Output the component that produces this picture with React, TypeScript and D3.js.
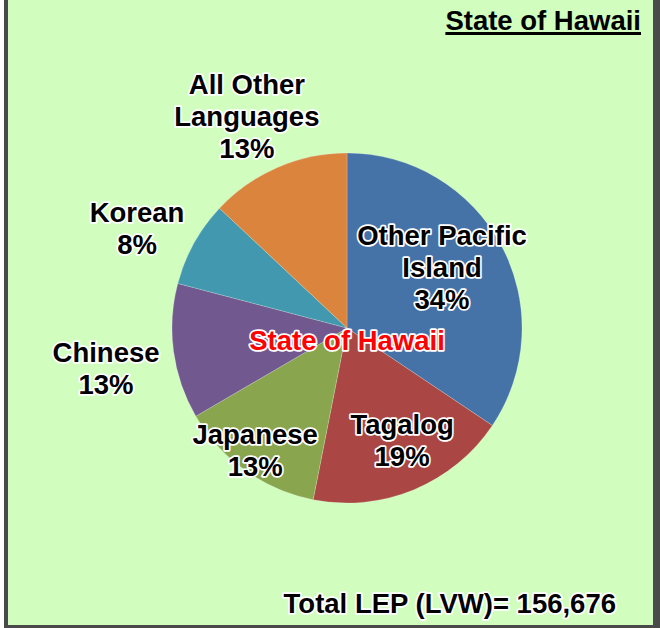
import { useEffect, useRef } from 'react'
import * as d3 from 'd3'

const languages = ['Other Pacific Island', 'Tagalog', 'Japanese', 'Chinese', 'Korean', 'All Other Languages']
const labelLines = [['Other Pacific', 'Island'], ['Tagalog'], ['Japanese'], ['Chinese'], ['Korean'], ['All Other', 'Languages']]
const shares = [34.4, 18.7, 13.5, 12.5, 7.9, 13.0]
const shownPct = ['34%', '19%', '13%', '13%', '8%', '13%']
const colors = ['#4572a7', '#aa4643', '#89a54e', '#71588f', '#4198af', '#db843d']
const title = 'State of Hawaii'
const total = 'Total LEP (LVW)= 156,676'

// label placement: distance from centre (fraction of radius) and angle nudge (degrees)
const labelRadius = [0.645, 0.713, 0.873, 1.396, 1.329, 1.339]
const labelNudge = [-4.6, -3.7, 1.5, -1.7, -3.5, -1.9]

const W = 660
const H = 628
const FONT = '"Liberation Sans", Arial, sans-serif'
const FS = 27.5

export default function App() {
  const svgRef = useRef<SVGSVGElement>(null)

  useEffect(() => {
    if (!svgRef.current) return
    const svg = d3.select(svgRef.current)
    svg.selectAll('*').remove()

    // frame
    svg.append('rect').attr('width', W).attr('height', H).attr('fill', '#ffffff')
    svg.append('rect').attr('x', 4).attr('y', -10).attr('width', W - 4).attr('height', H + 10).attr('fill', '#4a4a4a')
    svg.append('rect').attr('x', 8).attr('y', -10).attr('width', 645).attr('height', 635).attr('fill', '#d1fdbf')

    const cx = 347
    const cy = 328
    const r = 175

    const pie = d3.pie<number>().sort(null).value((d) => d)
    const arcs = pie(shares)
    const arc = d3.arc<d3.PieArcDatum<number>>().innerRadius(0).outerRadius(r)

    const g = svg.append('g').attr('transform', `translate(${cx},${cy})`)

    g.selectAll('path.slice')
      .data(arcs)
      .enter()
      .append('path')
      .attr('class', 'slice')
      .attr('d', arc)
      .attr('fill', (d, i) => colors[i])
      .attr('stroke', '#ffffff')
      .attr('stroke-opacity', 0.35)
      .attr('stroke-width', 0.6)

    const outlined = (sel: any) =>
      sel
        .attr('font-family', FONT)
        .attr('font-weight', 'bold')
        .attr('stroke', '#ffffff')
        .attr('stroke-width', 3.5)
        .attr('stroke-linejoin', 'round')
        .attr('paint-order', 'stroke')

    const lh = 32
    arcs.forEach((a, i) => {
      const mid = (a.startAngle + a.endAngle) / 2 + (labelNudge[i] * Math.PI) / 180
      const lr = r * labelRadius[i]
      const x = lr * Math.sin(mid)
      const y = -lr * Math.cos(mid)
      const lines = [...labelLines[i], shownPct[i]]
      const t = g
        .append('text')
        .attr('text-anchor', 'middle')
        .attr('font-size', FS)
        .attr('fill', '#000000')
      outlined(t)
      lines.forEach((ln, k) => {
        t.append('tspan')
          .attr('x', x)
          .attr('y', y + (k - (lines.length - 1) / 2) * lh)
          .attr('dy', '0.35em')
          .text(ln)
      })
    })

    // centre label
    const c = g
      .append('text')
      .attr('x', 0)
      .attr('y', 12)
      .attr('dy', '0.35em')
      .attr('text-anchor', 'middle')
      .attr('font-size', FS)
      .attr('fill', '#ff0000')
      .text(title)
    outlined(c)

    // top-right title
    const tt = svg
      .append('text')
      .attr('x', 641)
      .attr('y', 30)
      .attr('text-anchor', 'end')
      .attr('font-size', FS)
      .attr('font-family', FONT)
      .attr('font-weight', 'bold')
      .attr('fill', '#000000')
      .text(title)
    const bb = (tt.node() as SVGTextElement).getBBox()
    svg.append('rect').attr('x', bb.x).attr('y', 32).attr('width', bb.width).attr('height', 3).attr('fill', '#000000')

    // total
    const tot = svg
      .append('text')
      .attr('x', 616)
      .attr('y', 613)
      .attr('text-anchor', 'end')
      .attr('font-size', FS)
      .attr('fill', '#000000')
      .text(total)
    outlined(tot)
  }, [])

  return (
    <svg
      ref={svgRef}
      width={W}
      height={H}
      style={{ position: 'absolute', left: 0, top: 0, display: 'block' }}
    />
  )
}
